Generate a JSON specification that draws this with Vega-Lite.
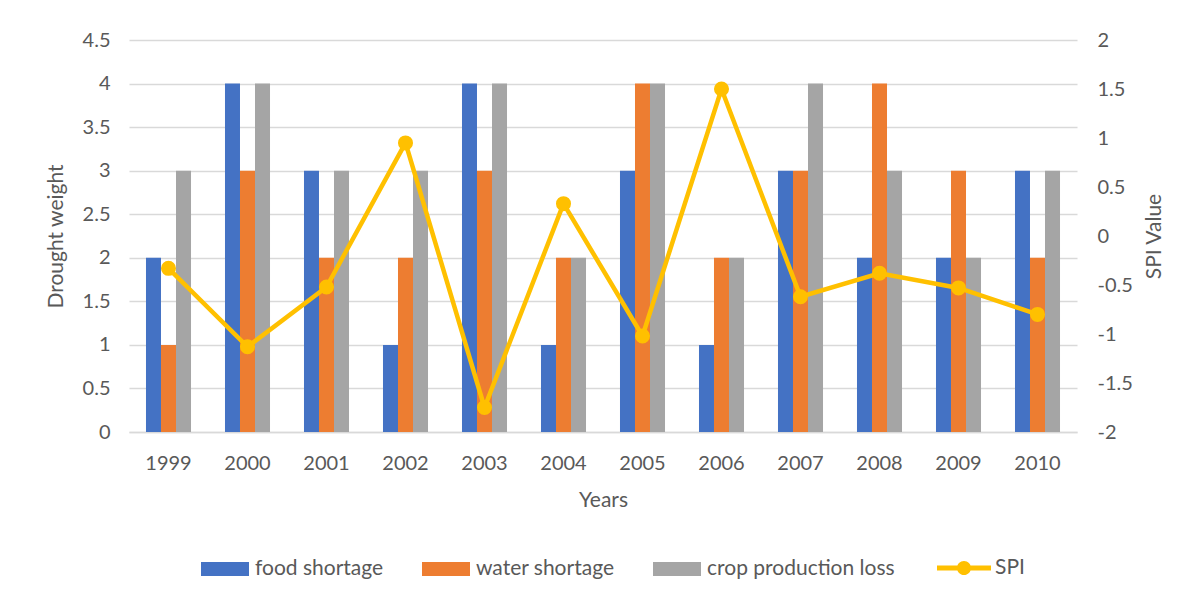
{
  "$schema": "https://vega.github.io/schema/vega-lite/v6.json",
  "width": 948,
  "height": 392,
  "autosize": "none",
  "padding": {"left": 129, "top": 40, "right": 115, "bottom": 169},
  "background": "white",
  "config": {
    "view": {"stroke": null},
    "font": "Lato",
    "axis": {
      "labelFont": "Lato",
      "titleFont": "Lato",
      "labelColor": "#595959",
      "titleColor": "#595959",
      "labelFontSize": 20,
      "titleFontSize": 21,
      "titleFontWeight": "normal",
      "gridColor": "#d9d9d9",
      "gridWidth": 1.3,
      "domain": false,
      "ticks": false,
      "tickSize": 0
    },
    "legend": {
      "labelFont": "Lato",
      "labelFontSize": 21,
      "labelColor": "#595959",
      "labelLimit": 400
    }
  },
  "datasets": {
    "bars": [
      {"year": "1999", "category": "food shortage", "weight": 2},
      {"year": "1999", "category": "water shortage", "weight": 1},
      {"year": "1999", "category": "crop production loss", "weight": 3},
      {"year": "2000", "category": "food shortage", "weight": 4},
      {"year": "2000", "category": "water shortage", "weight": 3},
      {"year": "2000", "category": "crop production loss", "weight": 4},
      {"year": "2001", "category": "food shortage", "weight": 3},
      {"year": "2001", "category": "water shortage", "weight": 2},
      {"year": "2001", "category": "crop production loss", "weight": 3},
      {"year": "2002", "category": "food shortage", "weight": 1},
      {"year": "2002", "category": "water shortage", "weight": 2},
      {"year": "2002", "category": "crop production loss", "weight": 3},
      {"year": "2003", "category": "food shortage", "weight": 4},
      {"year": "2003", "category": "water shortage", "weight": 3},
      {"year": "2003", "category": "crop production loss", "weight": 4},
      {"year": "2004", "category": "food shortage", "weight": 1},
      {"year": "2004", "category": "water shortage", "weight": 2},
      {"year": "2004", "category": "crop production loss", "weight": 2},
      {"year": "2005", "category": "food shortage", "weight": 3},
      {"year": "2005", "category": "water shortage", "weight": 4},
      {"year": "2005", "category": "crop production loss", "weight": 4},
      {"year": "2006", "category": "food shortage", "weight": 1},
      {"year": "2006", "category": "water shortage", "weight": 2},
      {"year": "2006", "category": "crop production loss", "weight": 2},
      {"year": "2007", "category": "food shortage", "weight": 3},
      {"year": "2007", "category": "water shortage", "weight": 3},
      {"year": "2007", "category": "crop production loss", "weight": 4},
      {"year": "2008", "category": "food shortage", "weight": 2},
      {"year": "2008", "category": "water shortage", "weight": 4},
      {"year": "2008", "category": "crop production loss", "weight": 3},
      {"year": "2009", "category": "food shortage", "weight": 2},
      {"year": "2009", "category": "water shortage", "weight": 3},
      {"year": "2009", "category": "crop production loss", "weight": 2},
      {"year": "2010", "category": "food shortage", "weight": 3},
      {"year": "2010", "category": "water shortage", "weight": 2},
      {"year": "2010", "category": "crop production loss", "weight": 3}
    ],
    "spi": [
      {"year": "1999", "series": "SPI", "spi": -0.33},
      {"year": "2000", "series": "SPI", "spi": -1.13},
      {"year": "2001", "series": "SPI", "spi": -0.52},
      {"year": "2002", "series": "SPI", "spi": 0.95},
      {"year": "2003", "series": "SPI", "spi": -1.75},
      {"year": "2004", "series": "SPI", "spi": 0.33},
      {"year": "2005", "series": "SPI", "spi": -1.02},
      {"year": "2006", "series": "SPI", "spi": 1.5},
      {"year": "2007", "series": "SPI", "spi": -0.62},
      {"year": "2008", "series": "SPI", "spi": -0.38},
      {"year": "2009", "series": "SPI", "spi": -0.53},
      {"year": "2010", "series": "SPI", "spi": -0.8}
    ]
  },
  "layer": [
    {
      "data": {"name": "bars"},
      "mark": {"type": "bar"},
      "encoding": {
        "x": {
          "field": "year",
          "type": "nominal",
          "title": "Years",
          "scale": {"paddingInner": 0.43, "paddingOuter": 0.215},
          "axis": {
            "labelAngle": 0,
            "labelPadding": 21,
            "titlePadding": 16,
            "domain": true,
            "domainColor": "#d9d9d9",
            "domainWidth": 1.3,
            "grid": false
          }
        },
        "xOffset": {
          "field": "category",
          "type": "nominal",
          "sort": ["food shortage", "water shortage", "crop production loss"],
          "scale": {"paddingInner": 0, "paddingOuter": 0}
        },
        "y": {
          "field": "weight",
          "type": "quantitative",
          "title": "Drought weight",
          "scale": {"domain": [0, 4.5], "nice": false},
          "axis": {
            "values": [0, 0.5, 1, 1.5, 2, 2.5, 3, 3.5, 4, 4.5],
            "labelExpr": "'' + datum.value",
            "labelPadding": 19,
            "titlePadding": 16,
            "grid": true
          }
        },
        "color": {
          "field": "category",
          "type": "nominal",
          "scale": {
            "domain": ["food shortage", "water shortage", "crop production loss"],
            "range": ["#4472C4", "#ED7D31", "#A5A5A5"]
          },
          "legend": {
            "title": null,
            "orient": "none",
            "direction": "horizontal",
            "legendX": 72,
            "legendY": 505,
            "symbolType": "M-1,-0.29H1V0.29H-1Z",
            "symbolSize": 2304,
            "symbolStrokeWidth": 0,
            "labelOffset": 6,
            "columnPadding": 38
          }
        }
      }
    },
    {
      "data": {"name": "spi"},
      "mark": {
        "type": "line",
        "color": "#FFC000",
        "strokeWidth": 4.5,
        "point": {"filled": true, "size": 170, "color": "#FFC000"}
      },
      "encoding": {
        "x": {"field": "year", "type": "nominal"},
        "y": {
          "field": "spi",
          "type": "quantitative",
          "title": "SPI Value",
          "scale": {"domain": [-2, 2], "nice": false},
          "axis": {
            "orient": "right",
            "values": [-2, -1.5, -1, -0.5, 0, 0.5, 1, 1.5, 2],
            "labelExpr": "'' + datum.value",
            "labelPadding": 20,
            "titlePadding": 11,
            "titleAngle": -90,
            "titleBaseline": "top",
            "grid": false
          }
        },
        "stroke": {
          "field": "series",
          "type": "nominal",
          "scale": {"domain": ["SPI"], "range": ["#FFC000"]},
          "legend": {
            "title": null,
            "orient": "none",
            "legendX": 808,
            "legendY": 501,
            "symbolType": "M-1,-0.09H1V0.09H-1Z M0.26,0A0.26,0.26 0 1,1 -0.26,0A0.26,0.26 0 1,1 0.26,0Z",
            "symbolSize": 2916,
            "symbolFillColor": "#FFC000",
            "symbolStrokeColor": "#FFC000",
            "symbolStrokeWidth": 0,
            "labelOffset": 4
          }
        }
      }
    }
  ],
  "resolve": {"scale": {"y": "independent"}}
}
